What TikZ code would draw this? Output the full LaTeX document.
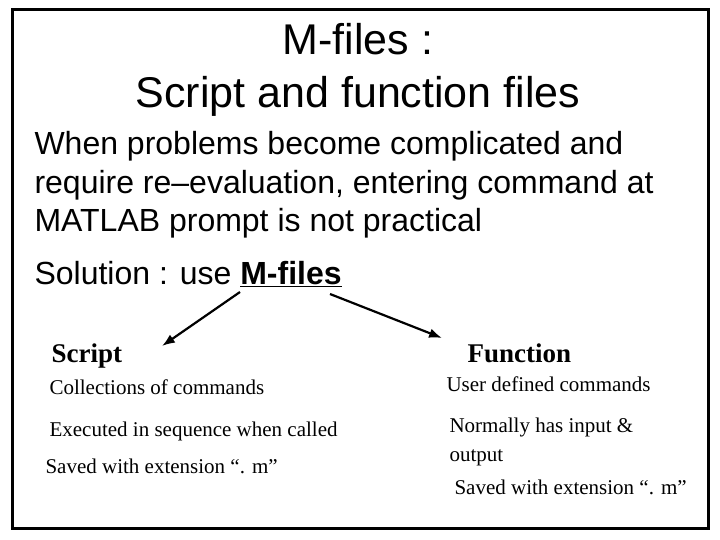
\documentclass[tikz,border=0pt]{standalone}
\usepackage{fontspec}
\setmainfont{Liberation Sans}
\newfontfamily\serif{Liberation Serif}
\usetikzlibrary{arrows.meta,positioning}
\begin{document}
\begin{tikzpicture}[x=1pt,y=-1pt, >=Latex,
  title/.style={anchor=base, font=\fontsize{43}{48}\selectfont},
  body/.style={anchor=base west, font=\fontsize{32}{36}\selectfont},
  head/.style={anchor=base west, font=\serif\bfseries\fontsize{27}{30}\selectfont},
  item/.style={anchor=base west, font=\serif\fontsize{21}{24}\selectfont}
]
\useasboundingbox (0,0) rectangle (720,540);
\draw[line width=3pt] (12,10) rectangle (708,528);
\begin{scope}
\clip (12,10) rectangle (706,526);
% title
\node[title] (t1) at (358,55) {M-files :};
\node[title] (t2) at (358,108) {Script and function files};
% body text
\node[body] (b1) at (31,155) {When problems become complicated and};
\node[body] (b2) at (31,194) {require re--evaluation, entering command at};
\node[body] (b3) at (31,232) {MATLAB prompt is not practical};
\node[body] (sol) at (31,284) {Solution : use \underline{\textbf{M-files}}};
\coordinate (src) at (240,292);
\coordinate (src2) at (330,294);
% columns
\node[head] (script) at (48,362) {Script};
\node[head] (func) at (464,362) {Function};
\draw[->, line width=2.2pt] (src) -- (162,346);
\draw[->, line width=2.2pt] (src2) -- (442,338);
\node[item] (s1) at (46,394) {Collections of commands};
\node[item] (s2) at (46,436) {Executed in sequence when called};
\node[item] (s3) at (42,473) {Saved with extension “. m”};
\node[item] (f1) at (443,391) {User defined commands};
\node[item] (f2) at (446,432) {Normally has input \&};
\node[item] (f3) at (446,461) {output};
\node[item] (f4) at (451,494) {Saved with extension “. m”};
\end{scope}
\end{tikzpicture}
\end{document}
